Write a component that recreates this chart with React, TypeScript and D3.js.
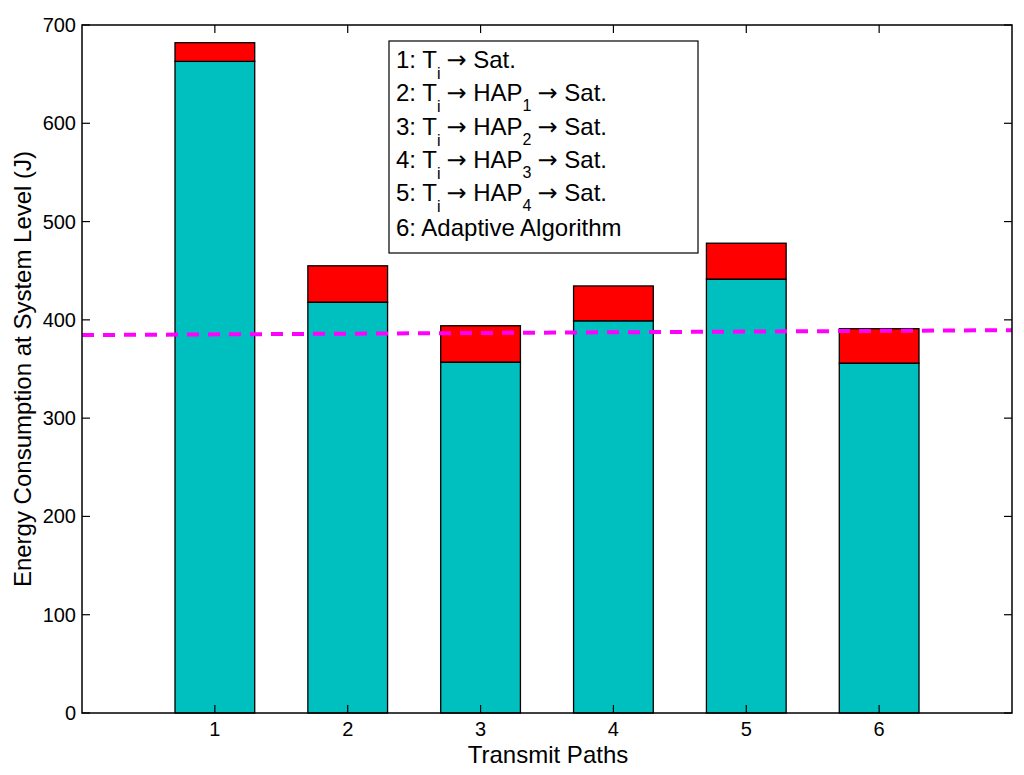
import React, { useEffect, useRef } from "react";
import * as d3 from "d3";

// transmit paths 1..6
const paths = [1, 2, 3, 4, 5, 6];
// lower (cyan) part of each bar, J
const baseEnergy = [663, 418, 357, 399, 441.5, 356];
// upper (red) part of each bar, J
const extraEnergy = [19, 37, 37, 35.5, 36.5, 35];
// dashed reference line: x positions and values
const refX = [0, 7];
const refY = [384.5, 389.5];
const yTicks = [0, 100, 200, 300, 400, 500, 600, 700];

// legend rows: [prefix, hap subscript or null]
const legendRows: [string, string | null][] = [
  ["1", null],
  ["2", "1"],
  ["3", "2"],
  ["4", "3"],
  ["5", "4"],
];

export default function App() {
  const ref = useRef<SVGSVGElement>(null);

  useEffect(() => {
    document.body.style.margin = "0";
    if (!ref.current) return;
    const svg = d3.select(ref.current);
    svg.selectAll("*").remove();

    const width = 1024;
    const height = 775;
    const margin = { top: 25, right: 12, bottom: 62, left: 82 };
    const font = "'Liberation Sans', Arial, sans-serif";
    const arrowFont = "'DejaVu Sans', sans-serif";

    const x = d3.scaleLinear().domain([0, 7]).range([margin.left, width - margin.right]);
    const y = d3.scaleLinear().domain([0, 700]).range([height - margin.bottom, margin.top]);

    svg.append("rect").attr("width", width).attr("height", height).attr("fill", "white");

    const barW = x(0.6) - x(0);

    // stacked bars
    const g = svg.append("g");
    paths.forEach((p, i) => {
      const b = baseEnergy[i];
      const e = extraEnergy[i];
      g.append("rect")
        .attr("x", x(p) - barW / 2)
        .attr("y", y(b))
        .attr("width", barW)
        .attr("height", y(0) - y(b))
        .attr("fill", "#00BFBF")
        .attr("stroke", "black")
        .attr("stroke-width", 1.3);
      g.append("rect")
        .attr("x", x(p) - barW / 2)
        .attr("y", y(b + e))
        .attr("width", barW)
        .attr("height", y(b) - y(b + e))
        .attr("fill", "#FF0000")
        .attr("stroke", "black")
        .attr("stroke-width", 1.3);
    });

    // dashed reference line
    const line = d3
      .line<number>()
      .x((_, i) => x(refX[i]))
      .y((d) => y(d));
    svg
      .append("path")
      .attr("d", line(refY))
      .attr("fill", "none")
      .attr("stroke", "#FF00FF")
      .attr("stroke-width", 4)
      .attr("stroke-dasharray", "12 9");

    // axes box
    const x0 = margin.left;
    const x1 = width - margin.right;
    const y0 = height - margin.bottom;
    const y1 = margin.top;
    svg
      .append("rect")
      .attr("x", x0)
      .attr("y", y1)
      .attr("width", x1 - x0)
      .attr("height", y0 - y1)
      .attr("fill", "none")
      .attr("stroke", "black")
      .attr("stroke-width", 1.5);

    const tickLen = 8;
    const axes = svg.append("g").attr("stroke", "black").attr("stroke-width", 1.2);
    yTicks.forEach((t) => {
      axes.append("line").attr("x1", x0).attr("x2", x0 + tickLen).attr("y1", y(t)).attr("y2", y(t));
      axes.append("line").attr("x1", x1).attr("x2", x1 - tickLen).attr("y1", y(t)).attr("y2", y(t));
      svg
        .append("text")
        .attr("x", x0 - 6)
        .attr("y", y(t))
        .attr("dy", "0.35em")
        .attr("text-anchor", "end")
        .attr("font-family", font)
        .attr("font-size", 20)
        .text(t);
    });
    paths.forEach((p) => {
      axes.append("line").attr("x1", x(p)).attr("x2", x(p)).attr("y1", y0).attr("y2", y0 - tickLen);
      axes.append("line").attr("x1", x(p)).attr("x2", x(p)).attr("y1", y1).attr("y2", y1 + tickLen);
      svg
        .append("text")
        .attr("x", x(p))
        .attr("y", y0 + 23)
        .attr("text-anchor", "middle")
        .attr("font-family", font)
        .attr("font-size", 20)
        .text(p);
    });

    // axis labels
    svg
      .append("text")
      .attr("x", (x0 + x1) / 2 + 1)
      .attr("y", 763)
      .attr("text-anchor", "middle")
      .attr("font-family", font)
      .attr("font-size", 24)
      .text("Transmit Paths");
    svg
      .append("text")
      .attr("transform", `translate(31, ${(y0 + y1) / 2}) rotate(-90)`)
      .attr("text-anchor", "middle")
      .attr("font-family", font)
      .attr("font-size", 24)
      .text("Energy Consumption at System Level (J)");

    // legend
    const lg = svg.append("g").attr("font-family", font).attr("font-size", 24);
    lg.append("rect")
      .attr("x", 389)
      .attr("y", 41)
      .attr("width", 309)
      .attr("height", 212)
      .attr("fill", "white")
      .attr("stroke", "black")
      .attr("stroke-width", 1.2);
    const lineGap = 33.3;
    legendRows.forEach(([num, sub], i) => {
      const t = lg.append("text").attr("x", 396).attr("y", 68 + i * lineGap);
      t.append("tspan").text(`${num}: T`);
      t.append("tspan").attr("dy", 11).attr("font-size", 16).text("i");
      t.append("tspan").attr("dy", -11).attr("dx", 6).attr("font-family", arrowFont).attr("font-size", 24).text("\u2192");
      if (sub) {
        t.append("tspan").text(" HAP");
        t.append("tspan").attr("dy", 10).attr("font-size", 16).text(sub);
        t.append("tspan").attr("dy", -10).attr("dx", 6).attr("font-family", arrowFont).attr("font-size", 24).text("\u2192");
      }
      t.append("tspan").text(" Sat.");
    });
    lg.append("text")
      .attr("x", 396)
      .attr("y", 68 + 5 * lineGap + 1)
      .text("6: Adaptive Algorithm");
  }, []);

  return <svg ref={ref} width={1024} height={775} style={{ display: "block" }} />;
}
